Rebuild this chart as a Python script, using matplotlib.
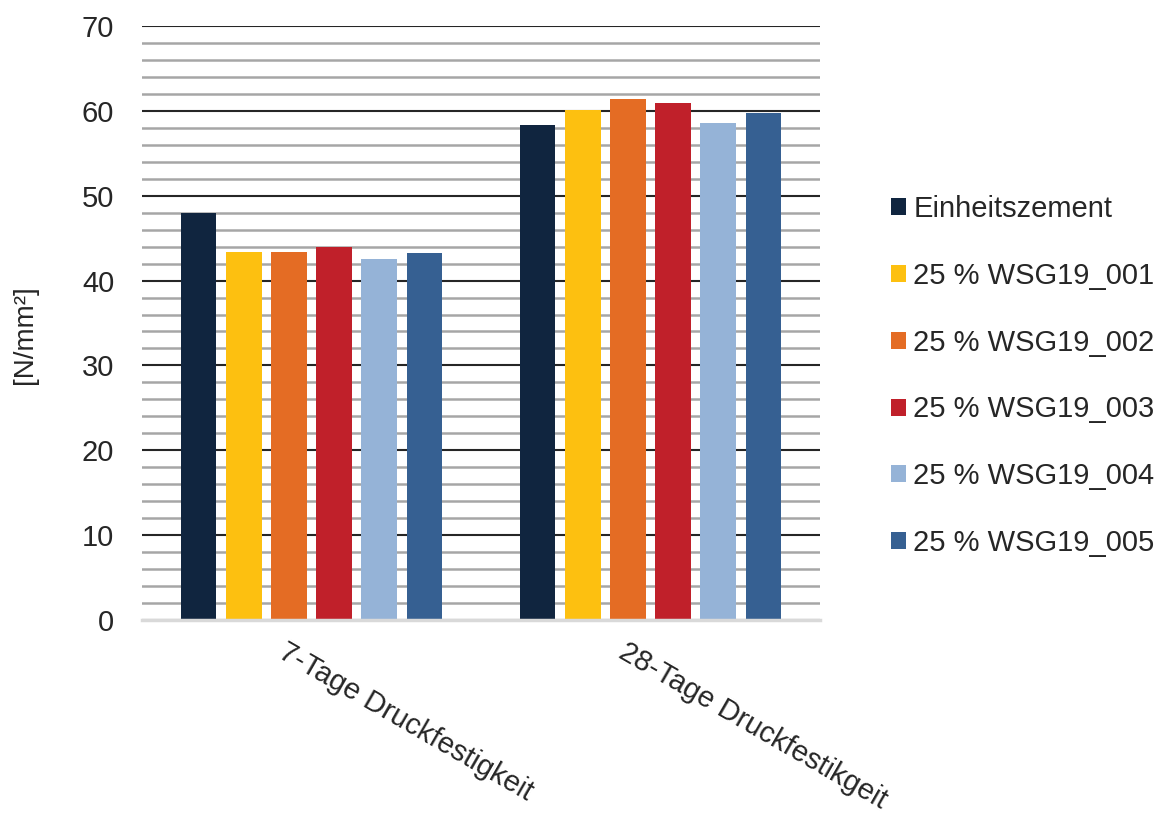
import matplotlib
matplotlib.use("Agg")
import matplotlib.pyplot as plt
import matplotlib.transforms as mtransforms
from matplotlib.patches import Patch
import numpy as np

plt.rcParams['font.family'] = ['Liberation Sans', 'DejaVu Sans']

categories = ["7-Tage Druckfestigkeit", "28-Tage Druckfestikgeit"]
series_names = ["Einheitszement", "25 % WSG19_001", "25 % WSG19_002",
                "25 % WSG19_003", "25 % WSG19_004", "25 % WSG19_005"]
einheitszement = [48.0, 58.3]
wsg_001 = [43.4, 60.1]
wsg_002 = [43.4, 61.4]
wsg_003 = [43.9, 60.9]
wsg_004 = [42.5, 58.6]
wsg_005 = [43.3, 59.7]
values = [einheitszement, wsg_001, wsg_002, wsg_003, wsg_004, wsg_005]
colors = ["#10253f", "#fdc010", "#e46c24", "#c0202a", "#95b3d7", "#366092"]
y_ticks = [0, 10, 20, 30, 40, 50, 60, 70]
y_label = "[N/mm²]"

text_color = "#262626"
W, H = 1162, 813
fig = plt.figure(figsize=(W / 100, H / 100), dpi=100)
ax = fig.add_axes([142 / W, 1 - 620 / H, (820 - 142) / W, (620 - 26) / H])

x = np.arange(len(categories))
slot = 0.1331
width = 0.1044
n = len(series_names)
for j, (name, vals, c) in enumerate(zip(series_names, values, colors)):
    ax.bar(x + (j - (n - 1) / 2) * slot, vals, width=width, color=c,
           label=name, zorder=2)

ax.set_xlim(-0.5, 1.5)
ax.set_ylim(0, 70)
ax.set_yticks(y_ticks)
ax.set_yticks(np.arange(0, 71, 2), minor=True)
ax.set_axisbelow(True)
ax.grid(axis='y', which='major', color='#262626', linewidth=1.5, zorder=0.5)
ax.grid(axis='y', which='minor', color='#a6a6a6', linewidth=1.8, zorder=0.4)
ax.tick_params(axis='y', which='both', length=0, pad=20, labelsize=21,
               labelcolor=text_color)
ax.tick_params(axis='x', length=0)
ax.set_xticks([])
for s in ['top', 'right', 'left']:
    ax.spines[s].set_visible(False)
ax.spines['bottom'].set_color('#d9d9d9')
ax.spines['bottom'].set_linewidth(2.5)
ax.spines['bottom'].set_zorder(3)

# category labels, rotated
for i, cat in enumerate(categories):
    off = mtransforms.ScaledTranslation(-23 / 100, -17.5 / 100, fig.dpi_scale_trans)
    ax.text(i, 0, cat, transform=ax.transData + off, rotation=-30,
            rotation_mode='anchor', ha='left', va='top', fontsize=21,
            color=text_color)

fig.text(25 / W, 1 - 335 / H, y_label, rotation=90, ha='center', va='center',
         fontsize=20, color=text_color)

handles = [Patch(facecolor=c, edgecolor='none') for c in colors]
leg = fig.legend(handles, series_names, loc='center left',
                 bbox_to_anchor=(891 / W, 1 - 376 / H), frameon=False,
                 fontsize=21, handlelength=0.52, handleheight=0.52,
                 handletextpad=0.25, labelspacing=1.33, borderpad=0,
                 borderaxespad=0)
for t in leg.get_texts():
    t.set_color(text_color)

fig.savefig("out.png", dpi=100)
